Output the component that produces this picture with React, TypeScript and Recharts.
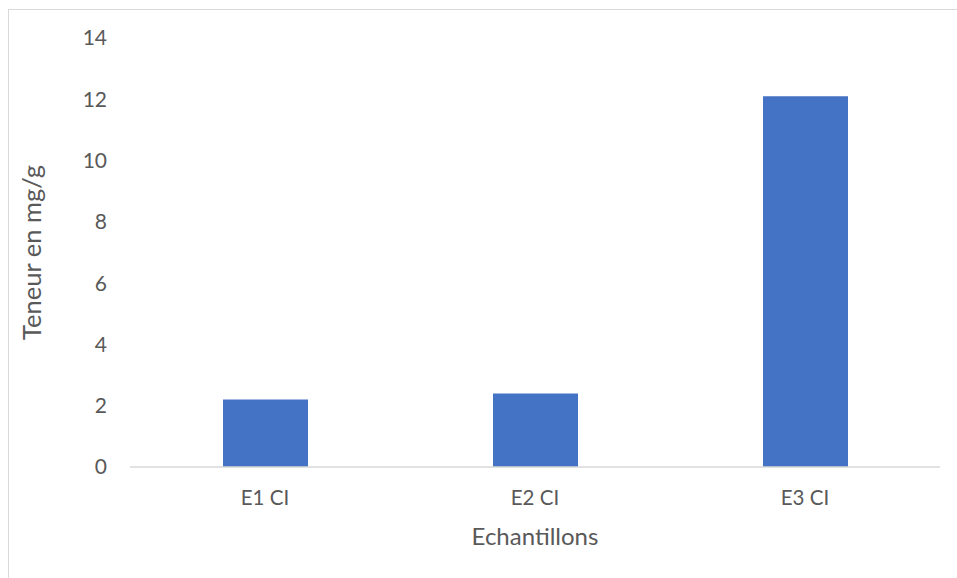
import React from 'react';
import { BarChart, Bar, XAxis, YAxis } from 'recharts';

const categories = ['E1 CI', 'E2 CI', 'E3 CI'];
const values = [2.2, 2.4, 12.1];
const yTicks = [0, 2, 4, 6, 8, 10, 12, 14];
const xTitle = 'Echantillons';
const yTitle = 'Teneur en mg/g';

const data = categories.map((c, i) => ({ name: c, value: values[i] }));

const FONT = 'Lato, "Open Sans", sans-serif';
const TEXT = '#595959';

export default function App() {
  return (
    <div style={{ position: 'absolute', left: 0, top: 0, width: 957, height: 578, overflow: 'hidden', background: '#fff' }}>
      <div style={{ position: 'absolute', left: 8, top: 9, width: 980, height: 620, border: '1px solid #d9d9d9', boxSizing: 'border-box' }} />
      <div style={{ position: 'absolute', left: 0, top: 0 }}>
        <BarChart width={957} height={578} data={data} margin={{ top: 38, right: 17, bottom: 81, left: 0 }}>
          <XAxis
            dataKey="name"
            height={30}
            axisLine={{ stroke: '#d9d9d9', strokeWidth: 1.5 }}
            tickLine={false}
            tickSize={0}
            tickMargin={23}
            tick={{ fill: TEXT, fontSize: 20.5, fontFamily: FONT }}
            label={{ value: xTitle, position: 'bottom', dy: 26, fill: TEXT, fontSize: 24, fontFamily: FONT }}
          />
          <YAxis
            width={130}
            domain={[0, 14]}
            ticks={yTicks}
            interval={0}
            axisLine={false}
            tickLine={false}
            tickSize={0}
            tickMargin={23}
            tick={{ fill: TEXT, fontSize: 21, fontFamily: FONT }}
            label={{ value: yTitle, angle: -90, position: 'center', dx: -33, fill: TEXT, fontSize: 25.5, fontFamily: FONT }}
          />
          <Bar dataKey="value" fill="#4472C4" barSize={85} isAnimationActive={false} />
        </BarChart>
      </div>
    </div>
  );
}
